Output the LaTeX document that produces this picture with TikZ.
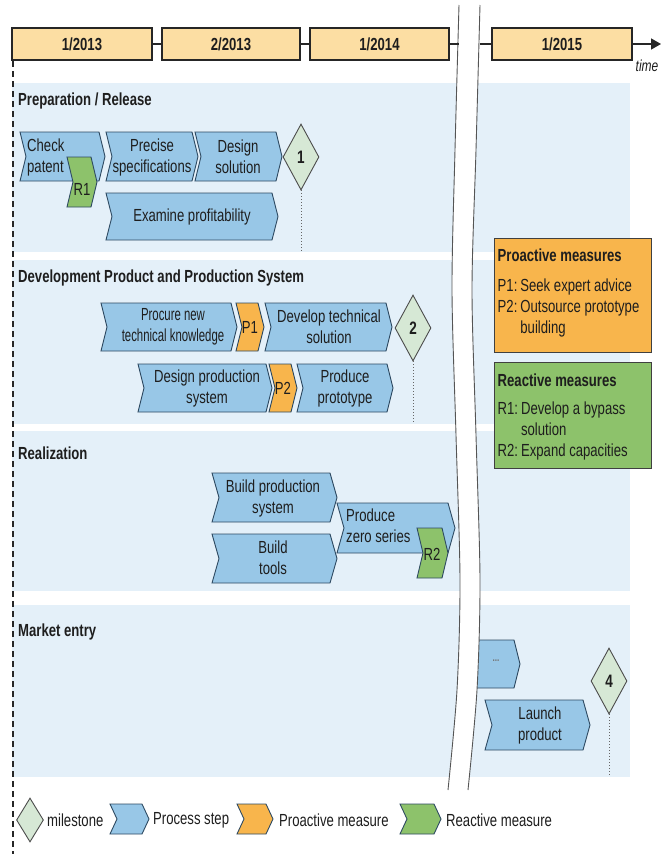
\documentclass[tikz,border=0pt]{standalone}
\usepackage{fontspec}
\setmainfont{Liberation Sans}[FakeStretch=0.75]
\newfontfamily\narrowfont{Liberation Sans}[FakeStretch=0.65]
\usetikzlibrary{shapes.geometric,arrows.meta}
\definecolor{lanebg}{HTML}{E4F0F9}
\definecolor{stepblue}{HTML}{98C7E7}
\definecolor{stepedge}{HTML}{2E4A62}
\definecolor{proorange}{HTML}{F8B54C}
\definecolor{reagreen}{HTML}{8DC26B}
\definecolor{msgreen}{HTML}{D6E8D5}
\definecolor{tlbox}{HTML}{FCDEA3}
\definecolor{txt}{HTML}{1E1E1E}
\definecolor{breakline}{HTML}{555555}

% #1 style, #2 left x, #3 right x (top corner), #4 top y, #5 bottom y, #6 tip depth
\newcommand\chevshape[6]{\path[#1] (#2,#4) -- (#3,#4) -- ({#3+#6},{(#4+#5)/2}) -- (#3,#5) -- (#2,#5) -- ({#2+#6},{(#4+#5)/2}) -- cycle;}

\begin{document}
\begin{tikzpicture}[x=1pt,y=-1pt,
  procstep/.style={fill=stepblue,draw=stepedge,line width=0.9pt,line join=miter},
  proact/.style={fill=proorange,draw=stepedge,line width=0.9pt,line join=miter},
  react/.style={fill=reagreen,draw=stepedge,line width=0.9pt,line join=miter},
  lbl/.style={font=\fontsize{17.5}{21}\selectfont,text=txt,align=center,inner sep=0pt},
  lanetitle/.style={font=\fontsize{17.5}{20}\selectfont\bfseries,text=txt,anchor=west,inner sep=0pt},
  milestone/.style={diamond,fill=msgreen,draw=black!70,line width=0.9pt,minimum width=36pt,minimum height=66pt,inner sep=0pt,font=\fontsize{18}{20}\selectfont\bfseries,text=txt},
  msline/.style={dotted,draw=black!60,line width=1pt},
  tlstyle/.style={fill=tlbox,draw=black!85,line width=1.6pt,minimum height=32pt,inner sep=0pt,font=\fontsize{17.5}{20}\selectfont\bfseries,text=txt},
  tlline/.style={draw=black!85,line width=1.4pt},
  measbox/.style={draw=black!75,line width=0.9pt,inner sep=0pt,anchor=north west},
  brk/.style={draw=breakline,line width=0.9pt},
]
\useasboundingbox[fill=white] (0,0) rectangle (665,854);

% lanes
\fill[lanebg] (12,83) rectangle (630,252);
\fill[lanebg] (12,260) rectangle (630,424);
\fill[lanebg] (12,431) rectangle (630,591);
\fill[lanebg] (12,605) rectangle (630,777);

\node[lanetitle] (lt1) at (18,101) {Preparation / Release};
\node[lanetitle] (lt2) at (18,278) {Development Product and Production System};
\node[lanetitle] (lt3) at (18,453) {Realization};
\node[lanetitle] (lt4) at (18,632) {Market entry};

% lane 1
\chevshape{procstep}{20}{99}{132}{181}{6}
\node[lbl,anchor=west,align=left] (checkp) at (27,157) {Check\\patent};
\chevshape{react}{67}{91}{157}{207}{6}
\node[lbl] (r1) at (82,189) {R1};
\chevshape{procstep}{106}{192}{132}{181}{6}
\node[lbl] (precise) at (152,157) {Precise\\specifications};
\chevshape{procstep}{195}{276}{132}{181}{6}
\node[lbl] (designsol) at (238,157) {Design\\solution};
\chevshape{procstep}{106}{272}{193}{240}{6}
\node[lbl] (examine) at (192,217) {Examine profitability};
\node[milestone] (m1) at (301,157) {1};
\coordinate (m1end) at (301,251);
\draw[msline] (m1.south) -- (m1end);

% lane 2
\chevshape{procstep}{101}{231}{303}{351}{6}
\node[lbl,font=\narrowfont\fontsize{17.5}{21}\selectfont] (procure) at (173,327) {Procure new\\technical knowledge};
\chevshape{proact}{236}{258}{303}{351}{6}
\node[lbl] (p1) at (250,327) {P1};
\chevshape{procstep}{265}{386}{303}{351}{6}
\node[lbl] (develop) at (329,327) {Develop technical\\solution};
\node[milestone] (m2) at (413,328) {2};
\coordinate (m2end) at (413,424);
\draw[msline] (m2.south) -- (m2end);
\chevshape{procstep}{138}{266}{364}{412}{6}
\node[lbl] (designprod) at (207,388) {Design production\\system};
\chevshape{proact}{269}{291}{364}{412}{6}
\node[lbl] (p2) at (283,388) {P2};
\chevshape{procstep}{297}{387}{364}{412}{6}
\node[lbl] (prototype) at (345,388) {Produce\\prototype};

% lane 3
\chevshape{procstep}{212}{330}{473}{522}{7}
\node[lbl] (buildps) at (273,498) {Build production\\system};
\chevshape{procstep}{212}{330}{534}{583}{7}
\node[lbl] (buildtools) at (273,558) {Build\\tools};
\chevshape{procstep}{337}{448}{503}{553}{7}
\node[lbl,anchor=west,align=left] (zero) at (346,526) {Produce\\zero series};
\chevshape{react}{417}{442}{528}{578}{6}
\node[lbl] (r2) at (432,554) {R2};

% lane 4
\path[procstep] (466,640) -- (514,640) -- (520,664) -- (514,688) -- (466,688) -- cycle;
\node[lbl,font=\fontsize{11}{12}\selectfont\bfseries,text=black!55] (dots) at (496,661) {...};
\chevshape{procstep}{485}{583}{700}{750}{7}
\node[lbl] (launch) at (540,725) {Launch\\product};
\node[milestone] (m4) at (609,681) {4};
\coordinate (m4end) at (609,777);
\draw[msline] (m4.south) -- (m4end);

% break band
\fill[white] plot[smooth] coordinates {(459,5) (455,150) (452,290) (456,435) (460,580) (457,690) (448,790)}
  -- plot[smooth] coordinates {(468,790) (477,690) (480,580) (476,435) (472,290) (476,150) (480,5)} -- cycle;
\draw[brk] plot[smooth] coordinates {(459,5) (455,150) (452,290) (456,435) (460,580) (457,690) (448,790)};
\draw[brk] plot[smooth] coordinates {(480,5) (476,150) (472,290) (476,435) (480,580) (477,690) (468,790)};

% time line
\node[tlstyle,minimum width=140pt] (t1) at (82,44) {1/2013};
\node[tlstyle,minimum width=138pt] (t2) at (231,44) {2/2013};
\node[tlstyle,minimum width=139pt] (t3) at (379.5,44) {1/2014};
\node[tlstyle,minimum width=140pt] (t4) at (562,44) {1/2015};
\coordinate (brkL) at (458.5,44);
\coordinate (brkR) at (479.5,44);
\coordinate (tend) at (661,44);
\draw[tlline] (t1.east) -- (t2.west);
\draw[tlline] (t2.east) -- (t3.west);
\draw[tlline] (t3.east) -- (brkL);
\draw[tlline] (brkR) -- (t4.west);
\draw[tlline,-{Triangle[length=10pt,width=11pt]}] (t4.east) -- (tend);
\node[lbl,font=\fontsize{16}{18}\selectfont\itshape] (timelbl) at (647,66) {time};

% dashed left line
\coordinate (dtop) at (12.5,61);
\coordinate (dbot) at (12.5,854);
\draw[black!85,line width=2pt,dash pattern=on 6pt off 4pt] (dtop) -- (dbot);

% measure boxes
\node[measbox,fill=proorange,minimum width=157pt,minimum height=114pt] (pbox) at (494,238) {};
\node[lbl,anchor=north west,align=left] (ptext) at (497.5,246.5) {\begin{tabular}{@{}l@{\hspace{3pt}}l@{}}\multicolumn{2}{@{}l@{}}{\bfseries Proactive measures}\\[9pt]
P1: & Seek expert advice\\
P2: & Outsource prototype\\
 & building\end{tabular}};
\node[measbox,fill=reagreen,minimum width=157pt,minimum height=106pt] (rbox) at (494,362) {};
\node[lbl,anchor=north west,align=left] (rtext) at (497.5,372) {\begin{tabular}{@{}l@{\hspace{3pt}}l@{}}\multicolumn{2}{@{}l@{}}{\bfseries Reactive measures}\\[7pt]
R1: & Develop a bypass\\
 & solution\\
R2: & Expand capacities\end{tabular}};

% bottom legend
\node[milestone,minimum width=27pt,minimum height=44pt] (lgm) at (30,820) {};
\node[lbl,anchor=west] (lgmt) at (47,820) {milestone};
\chevshape{procstep}{110}{142}{804}{834}{7}
\node[lbl,anchor=west] (lgpt) at (153,820) {Process step};
\chevshape{proact}{237}{266}{804}{834}{7}
\node[lbl,anchor=west] (lgpro) at (279,820) {Proactive measure};
\chevshape{react}{400}{434}{804}{834}{7}
\node[lbl,anchor=west] (lgrea) at (446,820) {Reactive measure};
\end{tikzpicture}
\end{document}
